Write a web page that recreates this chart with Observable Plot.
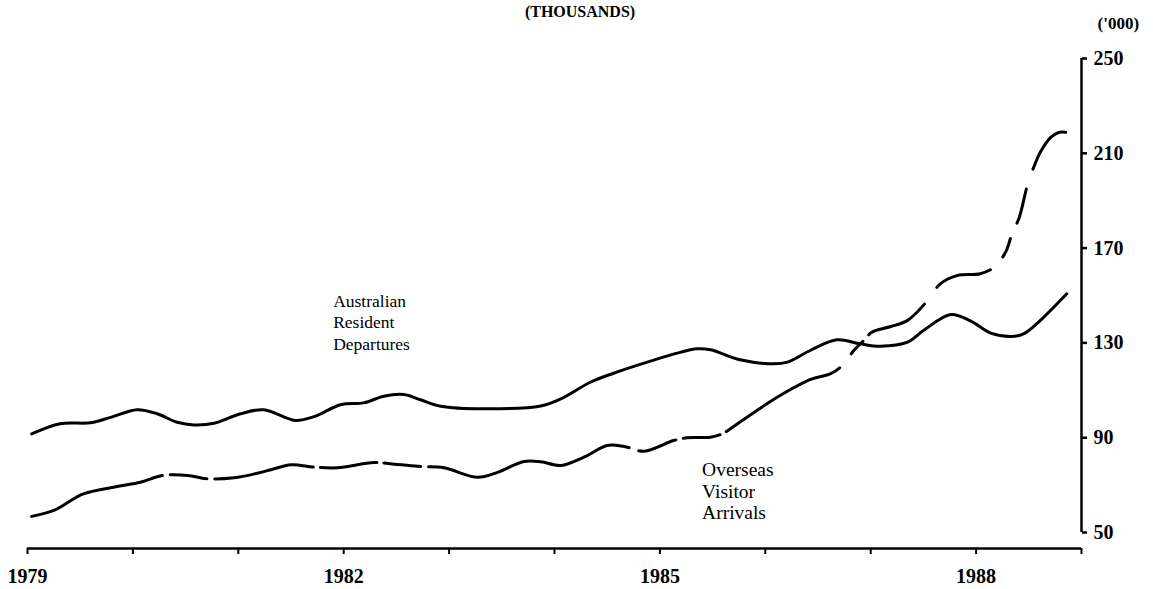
<!DOCTYPE html>
<html>
<head>
<meta charset="utf-8">
<script src="https://cdn.jsdelivr.net/npm/d3@7"></script>
<script src="https://cdn.jsdelivr.net/npm/@observablehq/plot@0.6"></script>
<style>
  html, body { margin: 0; padding: 0; background: #fff; }
  #wrap { position: relative; width: 1153px; height: 589px; overflow: hidden; }
  #title { position: absolute; left: 0; top: 2px; width: 1160px; text-align: center; line-height: 1.2;
           font-family: "Liberation Serif", serif; font-weight: bold; font-size: 16px; color: #000; }
  #chart { position: absolute; left: 0; top: 0; }
</style>
</head>
<body>
<div id="wrap">
  <div id="chart"></div>
  <div id="title">(THOUSANDS)</div>
</div>
<script>
// Australian Resident Departures (solid line), thousands
const depYears = [1979.04, 1979.31, 1979.60, 1979.79, 1980.04, 1980.23, 1980.42, 1980.58, 1980.77, 1981.02,
  1981.24, 1981.54, 1981.72, 1981.97, 1982.19, 1982.38, 1982.57, 1982.73, 1982.92, 1983.33,
  1983.87, 1984.06, 1984.34, 1984.56, 1984.88, 1985.20, 1985.35, 1985.48, 1985.76, 1986.08,
  1986.21, 1986.43, 1986.68, 1986.90, 1987.09, 1987.35, 1987.50, 1987.76, 1987.95, 1988.14,
  1988.33, 1988.45, 1988.64, 1988.86];
const depValues = [91.6, 95.9, 96.3, 98.6, 101.8, 100.1, 96.5, 95.4, 96.1, 100.1,
  101.8, 97.3, 98.9, 103.9, 104.7, 107.5, 108.2, 106.0, 103.3, 102.2,
  103.4, 106.4, 113.4, 117.2, 121.9, 126.1, 127.5, 127.1, 122.9, 121.2,
  121.9, 126.9, 131.3, 129.6, 128.6, 130.3, 135.2, 142.0, 139.2, 134.1,
  132.7, 133.8, 140.8, 150.7];

// Overseas Visitor Arrivals (dashed line), thousands
const arrYears = [1979.04, 1979.25, 1979.53, 1979.85, 1980.07, 1980.29, 1980.52, 1980.70, 1980.96, 1981.18,
  1981.31, 1981.50, 1981.72, 1981.94, 1982.29, 1982.51, 1982.73, 1982.95, 1983.27, 1983.46,
  1983.71, 1983.87, 1984.06, 1984.28, 1984.50, 1984.66, 1984.85, 1985.13, 1985.26, 1985.48,
  1985.59, 1985.67, 1985.92, 1986.14, 1986.43, 1986.62, 1986.73, 1986.84, 1986.95, 1987.01,
  1987.19, 1987.35, 1987.54, 1987.66, 1987.82, 1988.04, 1988.17, 1988.28, 1988.34, 1988.41,
  1988.49, 1988.56, 1988.61, 1988.71, 1988.79, 1988.85];
const arrValues = [56.8, 59.3, 66.3, 69.4, 71.2, 74.1, 74.1, 72.7, 73.1, 75.0,
  76.5, 78.6, 77.6, 77.3, 79.5, 78.7, 77.8, 77.3, 73.3, 75.4,
  80.0, 79.9, 78.3, 81.8, 86.7, 86.3, 84.3, 88.8, 90.0, 90.2,
  91.6, 93.8, 101.5, 107.8, 114.6, 117.0, 120.5, 126.8, 131.7, 134.5,
  136.9, 139.5, 147.9, 154.9, 158.4, 159.2, 161.9, 168.3, 176.0, 183.0,
  197.1, 205.6, 210.5, 216.8, 218.9, 218.9];

const allYears = [1979, 1980, 1981, 1982, 1983, 1984, 1985, 1986, 1987, 1988, 1989];
const labelYears = [1979, 1982, 1985, 1988];
const yTicks = [50, 90, 130, 170, 210, 250];
const seriesLabels = ["Australian\nResident\nDepartures", "Overseas\nVisitor\nArrivals"];
const unitLabel = "('000)";

const dep = depYears.map((x, i) => ({x, y: depValues[i]}));
const arr = arrYears.map((x, i) => ({x, y: arrValues[i]}));

const yMin = 43.25;
const serif = "Liberation Serif, Times New Roman, serif";

const chart = Plot.plot({
  width: 1153,
  height: 589,
  marginLeft: 27,
  marginRight: 72,
  marginTop: 58,
  marginBottom: 41,
  x: {domain: [1979, 1989]},
  y: {domain: [yMin, 250]},
  style: {fontFamily: serif, color: "#000", background: "#fff"},
  marks: [
    Plot.ruleY([yMin], {x1: 1979, x2: 1989, stroke: "#000", strokeWidth: 2.5}),
    Plot.axisX({
      ticks: allYears, tickSize: 6, tickPadding: 14, strokeWidth: 2,
      tickFormat: d => labelYears.includes(d) ? String(d) : "",
      fontSize: 20, fontWeight: "bold", label: null
    }),
    Plot.ruleX([1989], {y1: 50, y2: 250, stroke: "#000", strokeWidth: 2.5}),
    Plot.axisY({
      anchor: "right", ticks: yTicks, tickSize: 5, tickPadding: 7, strokeWidth: 2.5,
      tickFormat: d => String(d), fontSize: 20, fontWeight: "bold", label: null
    }),
    Plot.line(dep, {x: "x", y: "y", curve: "catmull-rom", stroke: "#000", strokeWidth: 3}),
    Plot.line(arr, {x: "x", y: "y", curve: "catmull-rom", stroke: "#000", strokeWidth: 3,
      strokeDasharray: "138,8,37,8,100,7,57,7,37,8,210,10,39,8,37,7,131,18,17,9,65,21,58,18,20,17,35,21,200"}),
    Plot.text([seriesLabels[0]], {x: 1981.9, y: 151.5, text: d => d, textAnchor: "start", lineAnchor: "top",
      lineHeight: 1.22, fontSize: 17.5, fill: "#000"}),
    Plot.text([seriesLabels[1]], {x: 1985.4, y: 80.5, text: d => d, textAnchor: "start", lineAnchor: "top",
      lineHeight: 1.12, fontSize: 19.5, fill: "#000"}),
    Plot.text([unitLabel], {frameAnchor: "top-right", text: d => d, textAnchor: "start", dx: 16, dy: -42,
      fontSize: 17, fontWeight: "bold", fill: "#000"})
  ]
});
document.getElementById("chart").appendChild(chart);
</script>
</body>
</html>
